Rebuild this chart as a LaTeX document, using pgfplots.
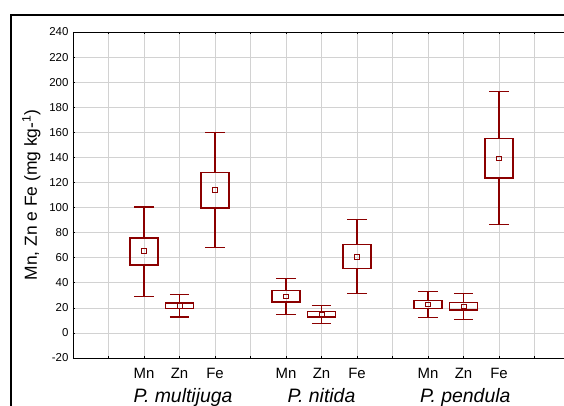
\documentclass[border=0pt]{standalone}
\usepackage{fontspec}
\setmainfont{Liberation Sans}
\usepackage{pgfplots}
\pgfplotsset{compat=1.18}
\usepgfplotslibrary{statistics}
\definecolor{boxred}{RGB}{139,0,0}

\begin{document}
\begin{tikzpicture}
\begin{axis}[
  at={(0,0)}, anchor=south west,
  scale only axis,
  width=497bp, height=326bp,
  xmin=0, xmax=14, ymin=-20, ymax=240,
  xtick={0,...,14},
  xticklabels={,,Mn,Zn,Fe,,Mn,Zn,Fe,,Mn,Zn,Fe,,},
  ytick={-20,0,20,...,240},
  ytick pos=left,
  tick align=inside,
  major tick length=2.5bp,
  tick style={black, line width=0.6bp},
  grid=major,
  grid style={gray!35, line width=0.6bp},
  axis line style={line width=0.8bp},
  yticklabel style={font=\fontsize{11.5}{13}\selectfont, xshift=-1bp},
  xticklabel style={font=\fontsize{15}{17}\selectfont, anchor=base, yshift=-20bp},
  /pgf/number format/assume math mode=true,
  ylabel={Mn, Zn e Fe (mg kg-\textsuperscript{1})},
  ylabel style={font=\fontsize{17.5}{19}\selectfont},
  ylabel shift=2bp,
  clip=false,
  boxplot/draw direction=y,
  boxplot/draw/median/.code={},
  boxplot/every box/.style={line width=1.5bp},
  boxplot/every whisker/.style={line width=1.1bp},
  boxplot/box extend=0.78,
  boxplot/whisker extend=0.54,
]
% P. multijuga
\addplot[boxred, boxplot prepared={draw position=2, lower whisker=29.4, lower quartile=54.1, median=65.3, upper quartile=75.9, upper whisker=100.4}] coordinates {};
\addplot[boxred, boxplot prepared={draw position=3, lower whisker=12.7, lower quartile=19.3, median=21.7, upper quartile=23.8, upper whisker=30.5}] coordinates {};
\addplot[boxred, boxplot prepared={draw position=4, lower whisker=68.0, lower quartile=99.6, median=114.0, upper quartile=127.8, upper whisker=159.7}] coordinates {};
% P. nitida
\addplot[boxred, boxplot prepared={draw position=6, lower whisker=14.5, lower quartile=24.6, median=29.2, upper quartile=33.7, upper whisker=43.2}] coordinates {};
\addplot[boxred, boxplot prepared={draw position=7, lower whisker=7.4, lower quartile=12.7, median=14.8, upper quartile=16.9, upper whisker=21.7}] coordinates {};
\addplot[boxred, boxplot prepared={draw position=8, lower whisker=31.3, lower quartile=51.5, median=60.8, upper quartile=70.6, upper whisker=90.8}] coordinates {};
% P. pendula
\addplot[boxred, boxplot prepared={draw position=10, lower whisker=12.1, lower quartile=19.6, median=22.8, upper quartile=26.0, upper whisker=32.9}] coordinates {};
\addplot[boxred, boxplot prepared={draw position=11, lower whisker=10.8, lower quartile=18.3, median=21.2, upper quartile=24.1, upper whisker=31.6}] coordinates {};
\addplot[boxred, boxplot prepared={draw position=12, lower whisker=86.3, lower quartile=123.5, median=139.2, upper quartile=154.9, upper whisker=192.4}] coordinates {};
% means
\addplot[only marks, mark=square, mark size=2.4bp, draw=boxred, line width=0.8bp]
  coordinates {(2,65.3) (3,21.7) (4,114.0) (6,29.2) (7,14.8) (8,60.8) (10,22.8) (11,21.2) (12,139.2)};

\node[font=\fontsize{19.5}{21}\selectfont\itshape, anchor=base] at (axis cs:3.1,-20) [yshift=-44bp] {P. multijuga};
\node[font=\fontsize{19.5}{21}\selectfont\itshape, anchor=base] at (axis cs:7,-20) [yshift=-44bp] {P. nitida};
\node[font=\fontsize{19.5}{21}\selectfont\itshape, anchor=base] at (axis cs:11.05,-20) [yshift=-44bp] {P. pendula};
\end{axis}
\draw[line width=1.6bp] (-62bp,-60bp) |- (520bp,343bp);
\pgfresetboundingbox
\path (-73bp,-48bp) rectangle (491bp,358bp);
\end{tikzpicture}
\end{document}
